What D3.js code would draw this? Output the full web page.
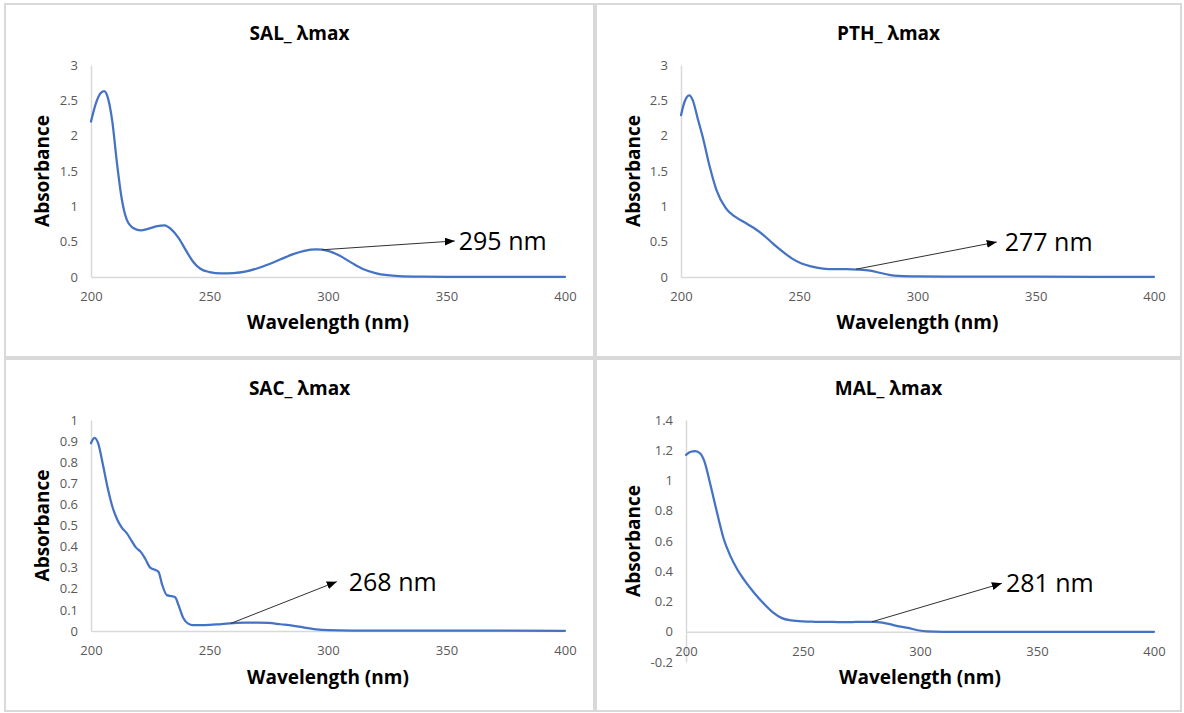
<!DOCTYPE html>
<html>
<head>
<meta charset="utf-8">
<script src="https://cdn.jsdelivr.net/npm/d3@7"></script>
<style>
  body { margin: 0; background: #fff; }
  svg { display: block; font-family: "Open Sans", "DejaVu Sans", sans-serif; }
</style>
</head>
<body>
<svg id="chart" width="1184" height="713"></svg>
<script>
// ---- data ----
const salNm  = [200, 202, 204, 205.5, 207, 209, 211, 213, 215, 218, 221, 224, 228, 231, 234, 237, 240, 243, 246, 250, 255, 260, 265, 270, 275, 280, 285, 290, 295, 300, 305, 310, 315, 320, 325, 330, 340, 350, 375, 400];
const salAbs = [2.20, 2.45, 2.60, 2.63, 2.55, 2.20, 1.60, 1.10, 0.82, 0.69, 0.66, 0.68, 0.72, 0.73, 0.67, 0.55, 0.38, 0.22, 0.12, 0.07, 0.05, 0.055, 0.075, 0.12, 0.18, 0.25, 0.32, 0.37, 0.39, 0.37, 0.30, 0.20, 0.11, 0.055, 0.025, 0.012, 0.005, 0.003, 0.002, 0.002];

const pthNm  = [200, 201.5, 203.5, 205, 207, 209.5, 212, 215, 219, 223, 227, 231, 235, 239, 243, 247, 251, 255, 260, 265, 270, 275, 280, 284, 288, 292, 300, 320, 350, 400];
const pthAbs = [2.29, 2.48, 2.57, 2.50, 2.25, 1.94, 1.58, 1.23, 0.97, 0.85, 0.77, 0.69, 0.59, 0.47, 0.36, 0.26, 0.19, 0.15, 0.12, 0.11, 0.11, 0.105, 0.09, 0.06, 0.03, 0.015, 0.008, 0.005, 0.004, 0.003];

const sacNm  = [200, 201.5, 203, 205, 207, 209, 211, 213, 215, 217, 219, 221, 223, 225, 227, 228.5, 230, 232, 234, 235.5, 237, 239, 241, 243, 248, 255, 260, 265, 270, 275, 280, 285, 290, 295, 300, 310, 400];
const sacAbs = [0.89, 0.915, 0.89, 0.79, 0.68, 0.59, 0.53, 0.49, 0.465, 0.43, 0.395, 0.375, 0.34, 0.30, 0.29, 0.28, 0.22, 0.17, 0.165, 0.16, 0.12, 0.06, 0.035, 0.028, 0.028, 0.033, 0.037, 0.04, 0.04, 0.038, 0.032, 0.026, 0.016, 0.008, 0.004, 0.002, 0.001];

const malNm  = [200, 202, 204, 206, 208, 210, 212, 214, 216, 219, 222, 225, 229, 233, 237, 241, 245, 250, 255, 260, 265, 270, 275, 280, 284, 287, 291, 295, 299, 303, 310, 400];
const malAbs = [1.17, 1.19, 1.195, 1.18, 1.12, 1.00, 0.87, 0.74, 0.62, 0.50, 0.41, 0.34, 0.26, 0.19, 0.13, 0.09, 0.075, 0.068, 0.066, 0.065, 0.064, 0.063, 0.066, 0.066, 0.06, 0.05, 0.036, 0.025, 0.01, 0.002, 0, 0];

const titles = ['SAL_ λmax', 'PTH_ λmax', 'SAC_ λmax', 'MAL_ λmax'];
const xTicks = [200, 250, 300, 350, 400];
const topYTicks = [0, 0.5, 1, 1.5, 2, 2.5, 3];
const sacYTicks = [0, 0.1, 0.2, 0.3, 0.4, 0.5, 0.6, 0.7, 0.8, 0.9, 1];
const malYTicks = [-0.2, 0, 0.2, 0.4, 0.6, 0.8, 1, 1.2, 1.4];

// λmax call-outs: arrow from a point on the curve to the label (data units)
const peakLabels = ['295 nm', '277 nm', '268 nm', '281 nm'];
const arrowFrom = [[297.5, 0.385], [274, 0.11], [259, 0.036], [279.5, 0.066]];
const arrowTo   = [[353.5, 0.51], [333.5, 0.495], [303.7, 0.234], [335, 0.32]];

// ---- layout ----
const panels = [
  { box: [5, 4, 589, 353],   left: 91,  right: 565,  top: 65,  bottom: 277, yDomain: [0, 3],      yTicks: topYTicks, nm: salNm, abs: salAbs, labelGap: 4 },
  { box: [596, 4, 585, 353], left: 681, right: 1154, top: 65,  bottom: 277, yDomain: [0, 3],      yTicks: topYTicks, nm: pthNm, abs: pthAbs, labelGap: 8 },
  { box: [5, 359, 589, 352], left: 91,  right: 565,  top: 420, bottom: 631, yDomain: [0, 1],      yTicks: sacYTicks, nm: sacNm, abs: sacAbs, labelGap: 12 },
  { box: [596, 359, 585, 352], left: 686, right: 1154, top: 420, bottom: 662, yDomain: [-0.2, 1.4], yTicks: malYTicks, nm: malNm, abs: malAbs, labelGap: 4 }
];

const svg = d3.select('#chart');

svg.append('defs').append('marker')
  .attr('id', 'arrowhead')
  .attr('markerUnits', 'userSpaceOnUse')
  .attr('markerWidth', 10)
  .attr('markerHeight', 8)
  .attr('refX', 10)
  .attr('refY', 4)
  .attr('orient', 'auto')
  .append('path')
  .attr('d', 'M0,0 L10,4 L0,8 Z')
  .attr('fill', '#000');

panels.forEach(function(p, i) {
  const g = svg.append('g');

  // chart border
  g.append('rect')
    .attr('x', p.box[0]).attr('y', p.box[1])
    .attr('width', p.box[2]).attr('height', p.box[3])
    .attr('fill', '#fff')
    .attr('stroke', '#d9d9d9')
    .attr('stroke-width', 2);

  const x = d3.scaleLinear().domain([200, 400]).range([p.left, p.right]);
  const y = d3.scaleLinear().domain(p.yDomain).range([p.bottom, p.top]);

  // y axis
  const yAxis = g.append('g')
    .attr('transform', 'translate(' + p.left + ',0)')
    .call(d3.axisLeft(y).tickValues(p.yTicks).tickSize(0).tickPadding(13)
      .tickFormat(function(d) { return String(d); }));

  // x axis at zero
  const xAxis = g.append('g')
    .attr('transform', 'translate(0,' + y(0) + ')')
    .call(d3.axisBottom(x).tickValues(xTicks).tickSize(0).tickPadding(15)
      .tickFormat(function(d) { return String(d); }));

  [yAxis, xAxis].forEach(function(a) {
    a.select('.domain').attr('stroke', '#d9d9d9').attr('stroke-width', 1.5);
    a.selectAll('text').attr('fill', '#595959').style('font-size', '13px')
      .style('font-family', '"Open Sans", sans-serif');
  });

  // spectrum
  const pts = p.nm.map(function(d, k) { return [d, p.abs[k]]; });
  const line = d3.line()
    .x(function(d) { return x(d[0]); })
    .y(function(d) { return y(d[1]); })
    .curve(d3.curveMonotoneX);

  g.append('path')
    .datum(pts)
    .attr('d', line)
    .attr('fill', 'none')
    .attr('stroke', '#4472c4')
    .attr('stroke-width', 2.25)
    .attr('stroke-linejoin', 'round')
    .attr('stroke-linecap', 'round');

  // titles
  const cx = p.box[0] + p.box[2] / 2;
  g.append('text')
    .attr('x', cx).attr('y', p.box[1] + 36)
    .attr('text-anchor', 'middle')
    .attr('font-weight', 'bold')
    .attr('font-size', 19)
    .attr('fill', '#000')
    .text(titles[i]);

  g.append('text')
    .attr('x', (p.left + p.right) / 2).attr('y', p.box[1] + 325)
    .attr('text-anchor', 'middle')
    .attr('font-weight', 'bold')
    .attr('font-size', 19)
    .attr('fill', '#000')
    .text('Wavelength (nm)');

  g.append('text')
    .attr('transform', 'translate(' + (p.box[0] + 37) + ',' + ((p.top + p.bottom) / 2) + ') rotate(-90)')
    .attr('dy', '0.35em')
    .attr('text-anchor', 'middle')
    .attr('font-weight', 'bold')
    .attr('font-size', 19)
    .attr('fill', '#000')
    .text('Absorbance');

  // λmax arrow and label
  const from = arrowFrom[i], to = arrowTo[i];
  g.append('line')
    .attr('x1', x(from[0])).attr('y1', y(from[1]))
    .attr('x2', x(to[0])).attr('y2', y(to[1]))
    .attr('stroke', '#303030')
    .attr('stroke-width', 1)
    .attr('marker-end', 'url(#arrowhead)');

  g.append('text')
    .attr('x', x(to[0]) + p.labelGap).attr('y', y(to[1]))
    .attr('dy', '0.36em')
    .attr('font-size', 25)
    .attr('fill', '#000')
    .text(peakLabels[i]);
});
</script>
</body>
</html>
